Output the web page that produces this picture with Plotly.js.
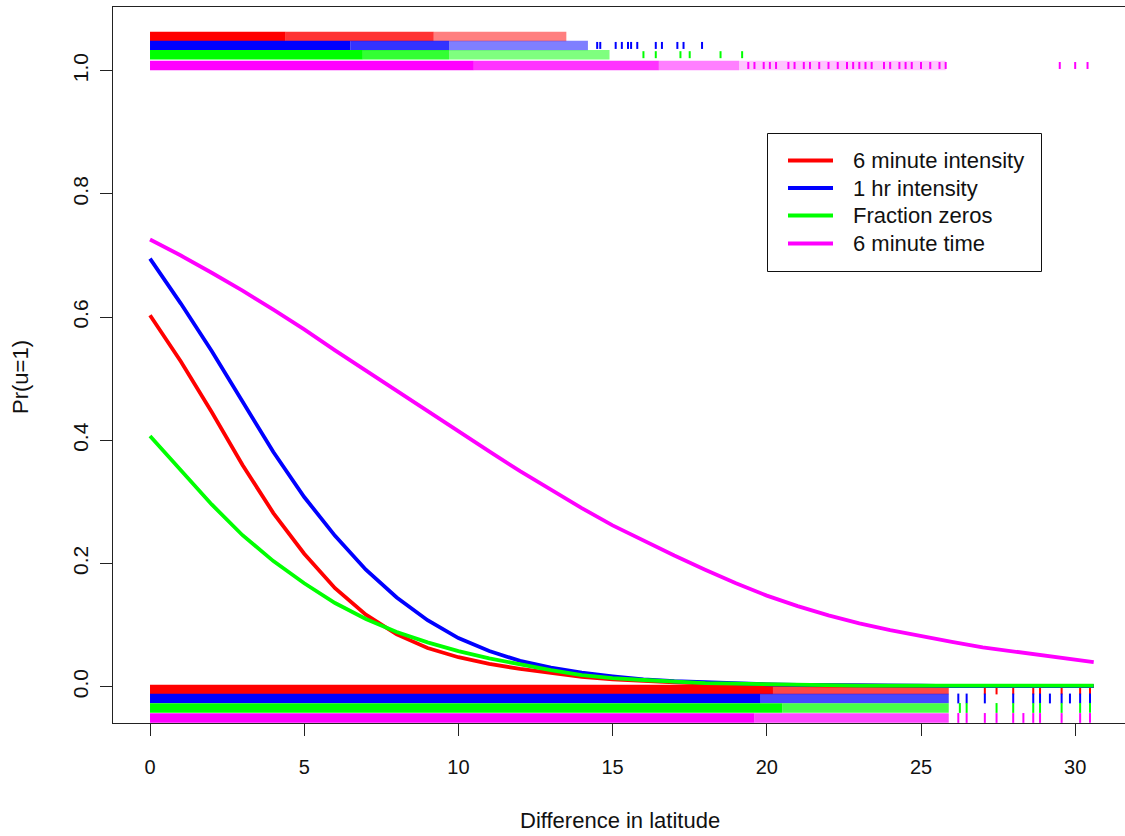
<!DOCTYPE html>
<html>
<head>
<meta charset="utf-8">
<script src="https://cdn.plot.ly/plotly-3.0.1.min.js"></script>
<style>
  html, body { margin: 0; padding: 0; background: #ffffff; overflow: hidden; }
  #chart { width: 1125px; height: 836px; }
</style>
</head>
<body>
<div id="chart"></div>
<script>
// Fitted probability that u = 1 against difference in latitude, one curve per statistic.
const seriesNames = ['6 minute intensity', '1 hr intensity', 'Fraction zeros', '6 minute time'];
const seriesColors = ['#ff0000', '#0000ff', '#00ff00', '#ff00ff'];

const distance = [0, 1, 2, 3, 4, 5, 6, 7, 8, 9, 10, 11, 12, 13, 14, 15, 16, 17, 18, 19, 20,
                  21, 22, 23, 24, 25, 26, 27, 28, 29, 30, 30.6];

const prIntensity6min = [0.603, 0.528, 0.446, 0.360, 0.282, 0.216, 0.160, 0.117, 0.085, 0.063, 0.048,
                         0.037, 0.029, 0.022, 0.016, 0.012, 0.009, 0.007, 0.005, 0.004, 0.003,
                         0.002, 0.002, 0.002, 0.001, 0.001, 0.001, 0.001, 0.001, 0.001, 0.001, 0.001];
const prIntensity1hr = [0.695, 0.622, 0.545, 0.462, 0.381, 0.308, 0.245, 0.190, 0.145, 0.108, 0.079,
                        0.058, 0.042, 0.031, 0.023, 0.017, 0.012, 0.009, 0.007, 0.005, 0.004,
                        0.003, 0.003, 0.002, 0.002, 0.002, 0.001, 0.001, 0.001, 0.001, 0.001, 0.001];
const prFractionZeros = [0.407, 0.352, 0.296, 0.246, 0.204, 0.168, 0.136, 0.110, 0.089, 0.072, 0.058,
                         0.046, 0.036, 0.027, 0.019, 0.014, 0.011, 0.008, 0.006, 0.005, 0.004,
                         0.003, 0.003, 0.002, 0.002, 0.002, 0.002, 0.002, 0.002, 0.002, 0.002, 0.002];
const prTime6min = [0.726, 0.700, 0.672, 0.643, 0.612, 0.580, 0.546, 0.513, 0.480, 0.447, 0.414,
                    0.382, 0.350, 0.320, 0.290, 0.262, 0.237, 0.213, 0.190, 0.168, 0.148,
                    0.131, 0.116, 0.103, 0.092, 0.082, 0.073, 0.064, 0.057, 0.050, 0.044, 0.040];

// Observed pairs, shown as rugs: u = 1 along the top, u = 0 along the bottom.
// Observations are continuous up to the "solid" distance, patchy up to the next one,
// thin beyond that, and the remaining isolated pairs are listed individually.
const onesSolidEnd  = [4.4, 6.5, 6.9, 10.5];
const onesPatchyEnd = [9.2, 9.7, 9.7, 16.5];
const onesThinEnd   = [13.5, 14.2, 14.9, 19.1];
const onesScatterEnd = [13.5, 14.2, 14.9, 25.8];
const onesIsolated6min = [];
const onesIsolated1hr  = [14.5, 14.6, 15.1, 15.3, 15.5, 15.6, 15.8, 16.4, 16.6, 17.1, 17.3, 17.9];
const onesIsolatedZeros = [16.0, 16.4, 17.2, 17.5, 18.5, 19.2];
const onesIsolatedTime = [19.4, 19.6, 19.9, 20.1, 20.3, 20.7, 20.9, 21.2, 21.4, 21.7, 22.0, 22.3,
                          22.6, 22.8, 23.0, 23.2, 23.4, 23.8, 24.0, 24.3, 24.5, 24.7, 25.0, 25.3,
                          25.6, 25.8, 29.5, 30.0, 30.4];

const zerosSolidEnd  = [20.2, 19.8, 20.5, 19.6];
const zerosPatchyEnd = [25.9, 25.9, 25.9, 25.9];
const zerosIsolated6min  = [27.07, 27.45, 27.99, 28.64, 28.86, 29.56, 30.16, 30.48];
const zerosIsolated1hr   = [26.21, 26.48, 27.07, 27.99, 28.64, 28.86, 29.18, 29.56, 29.83, 30.16, 30.48];
const zerosIsolatedZeros = [26.26, 26.48, 27.45, 27.99, 28.64, 28.86, 29.56, 30.16, 30.48];
const zerosIsolatedTime  = [26.21, 26.48, 27.07, 27.45, 27.99, 28.32, 28.64, 28.86, 29.56, 30.16, 30.48];

const xTickVals = [0, 5, 10, 15, 20, 25, 30];
const yTickVals = [0.0, 0.2, 0.4, 0.6, 0.8, 1.0];

// ---- drawing -------------------------------------------------------------
const curves = [prIntensity6min, prIntensity1hr, prFractionZeros, prTime6min];
const onesIsolated = [onesIsolated6min, onesIsolated1hr, onesIsolatedZeros, onesIsolatedTime];
const zerosIsolated = [zerosIsolated6min, zerosIsolated1hr, zerosIsolatedZeros, zerosIsolatedTime];

// vertical jitter bands for the rugs
const onesBand  = [1.0555, 1.041, 1.026, 1.0085];
const zerosBand = [-0.0044, -0.019, -0.0344, -0.0506];
const bandWidth = 9.5;

const FONT = 'Liberation Sans, Arial, Helvetica, sans-serif';
const traces = [];

function segment(x0, x1, y, color, opacity) {
  if (x1 <= x0) return;
  traces.push({
    x: [x0, x1], y: [y, y], mode: 'lines', type: 'scatter',
    line: { color: color, width: bandWidth }, opacity: opacity,
    hoverinfo: 'skip', showlegend: false
  });
}
function ticks(xs, y, color, size) {
  if (!xs.length) return;
  traces.push({
    x: xs, y: xs.map(() => y), mode: 'markers', type: 'scatter',
    marker: { symbol: 'line-ns', size: size, line: { color: color, width: 2 } },
    hoverinfo: 'skip', showlegend: false
  });
}

for (let i = 0; i < 4; i++) {
  const c = seriesColors[i];
  // u = 1
  segment(0, onesSolidEnd[i], onesBand[i], c, 1);
  segment(onesSolidEnd[i], onesPatchyEnd[i], onesBand[i], c, 0.8);
  segment(onesPatchyEnd[i], onesThinEnd[i], onesBand[i], c, 0.5);
  segment(onesThinEnd[i], onesScatterEnd[i], onesBand[i], c, 0.22);
  ticks(onesIsolated[i], onesBand[i], c, 5);
  // u = 0
  segment(0, zerosSolidEnd[i], zerosBand[i], c, 1);
  segment(zerosSolidEnd[i], zerosPatchyEnd[i], zerosBand[i], c, 0.72);
  ticks(zerosIsolated[i], zerosBand[i], c, 7);
}

for (let i = 0; i < 4; i++) {
  traces.push({
    x: distance, y: curves[i], mode: 'lines', type: 'scatter', name: seriesNames[i],
    line: { color: seriesColors[i], width: 3.8 },
    showlegend: false
  });
}

// layout geometry (pixels)
const W = 1125, H = 836, L = 113, R = 0, T = 7, B = 113;
const px = v => (v - L) / (W - L - R);
const py = v => (H - B - v) / (H - T - B);

// key box
const shapes = [{
  type: 'rect', xref: 'paper', yref: 'paper',
  x0: px(767.5), x1: px(1041.5), y0: py(271.5), y1: py(133.5),
  line: { color: '#111111', width: 1 }, fillcolor: '#ffffff', layer: 'above'
}];
const annotations = [];
const keyRows = [160.5, 188, 215.5, 243.5];
for (let i = 0; i < 4; i++) {
  shapes.push({
    type: 'line', xref: 'paper', yref: 'paper',
    x0: px(788), x1: px(833), y0: py(keyRows[i]), y1: py(keyRows[i]),
    line: { color: seriesColors[i], width: 4 }, layer: 'above'
  });
  annotations.push({
    xref: 'paper', yref: 'paper', x: px(851), y: py(keyRows[i]),
    xanchor: 'left', yanchor: 'middle', showarrow: false,
    text: seriesNames[i], font: { family: FONT, size: 22, color: '#111111' }
  });
}
annotations.push({
  xref: 'paper', yref: 'paper', x: px(620), y: py(821),
  xanchor: 'center', yanchor: 'middle', showarrow: false,
  text: 'Difference in latitude', font: { family: FONT, size: 22, color: '#111111' }
});
annotations.push({
  xref: 'paper', yref: 'paper', x: px(21), y: py(377),
  xanchor: 'center', yanchor: 'middle', showarrow: false, textangle: -90,
  text: 'Pr(u=1)', font: { family: FONT, size: 22, color: '#111111' }
});

const layout = {
  width: W, height: H,
  margin: { l: L, r: R, t: T, b: B, pad: 0 },
  paper_bgcolor: '#ffffff', plot_bgcolor: '#ffffff',
  showlegend: false,
  xaxis: {
    range: [-1.20, 31.615], showgrid: false, zeroline: false,
    showline: true, mirror: true, linecolor: '#222222', linewidth: 1,
    ticks: 'outside', ticklen: 12, tickwidth: 1, tickcolor: '#222222',
    tickvals: xTickVals, ticktext: xTickVals.map(String),
    ticklabelstandoff: 14,
    tickfont: { family: FONT, size: 20, color: '#111111' }
  },
  yaxis: {
    range: [-0.0588, 1.1034], showgrid: false, zeroline: false,
    showline: true, mirror: false, linecolor: '#222222', linewidth: 1,
    ticks: 'outside', ticklen: 12, tickwidth: 1, tickcolor: '#222222',
    tickvals: yTickVals, ticktext: yTickVals.map(v => v.toFixed(1)),
    tickangle: -90, ticklabelstandoff: 4,
    tickfont: { family: FONT, size: 21, color: '#111111' }
  },
  shapes: shapes,
  annotations: annotations
};

Plotly.newPlot('chart', traces, layout, { staticPlot: true, displayModeBar: false });
</script>
</body>
</html>
